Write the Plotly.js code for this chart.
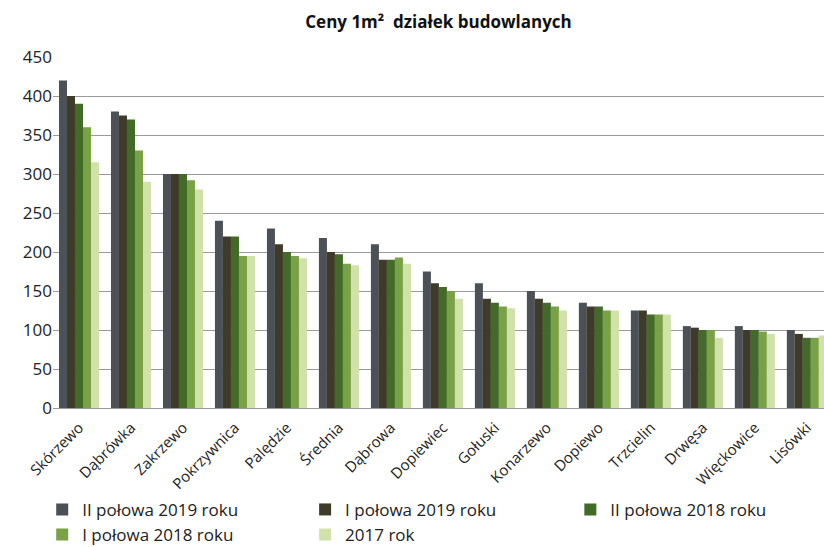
<!DOCTYPE html>
<html>
<head>
<meta charset="utf-8">
<script src="https://cdn.plot.ly/plotly-3.0.1.min.js"></script>
<style>html,body{margin:0;padding:0;background:#fff;}#chart{width:824px;height:547px;}</style>
</head>
<body>
<div id="chart"></div>
<script>
const categories = ["Skórzewo","Dąbrówka","Zakrzewo","Pokrzywnica","Palędzie","Średnia","Dąbrowa","Dopiewiec","Gołuski","Konarzewo","Dopiewo","Trzcielin","Drwęsa","Więckowice","Lisówki"];
const seriesNames = ["II połowa 2019 roku","I połowa 2019 roku","II połowa 2018 roku","I połowa 2018 roku","2017 rok"];
const h2_2019 = [420,380,300,240,230,218,210,175,160,150,135,125,105,105,100];
const h1_2019 = [400,375,300,220,210,200,190,160,140,140,130,125,103,100,95];
const h2_2018 = [390,370,300,220,200,197,190,155,135,135,130,120,100,100,90];
const h1_2018 = [360,330,292,195,195,185,193,150,130,130,125,120,100,98,90];
const y2017   = [315,290,280,195,192,183,185,140,128,125,125,120,90,95,93];
const seriesValues = [h2_2019,h1_2019,h2_2018,h1_2018,y2017];
const colors = ["#4b5157","#3e3b28","#416b27","#79a145","#d0e1aa"];
const yTicks = [0,50,100,150,200,250,300,350,400,450];
const legendIds = ['legend','legend2','legend3','legend','legend2'];

const traces = seriesValues.map((v,i)=>({
  type:'bar', x:categories, y:v, name:seriesNames[i], legend:legendIds[i],
  marker:{color:colors[i], line:{width:0}}
}));

function leg(x){
  return {orientation:'v', x:x, xanchor:'left', y:-0.239, yanchor:'top', itemwidth:30,
          font:{size:17, color:'#222'}, traceorder:'normal', bgcolor:'rgba(0,0,0,0)'};
}

const layout = {
  width:824, height:547,
  margin:{l:53, r:0, t:57, b:139, autoexpand:false},
  paper_bgcolor:'#fff', plot_bgcolor:'#fff',
  font:{family:'"Open Sans", sans-serif', color:'#222'},
  title:{text:'Ceny 1m²  działek budowlanych', x:0.5, xref:'paper', xanchor:'center', y:0.96, yref:'container', yanchor:'middle',
         font:{family:'"Open Sans", "Liberation Sans", sans-serif', size:17, color:'#111', weight:'bold'}},
  barmode:'group', bargap:0.23, bargroupgap:0,
  xaxis:{type:'category', range:[-0.5,14.33], tickangle:-45, automargin:false, ticklabelstandoff:4,
         tickfont:{size:15, family:'"Open Sans", sans-serif', color:'#222'},
         showline:true, linecolor:'#9a9a9a', linewidth:1, ticks:'', showgrid:false},
  yaxis:{range:[0,450], tickvals:yTicks, ticktext:yTicks.map(String), showgrid:true, gridcolor:'#9a9a9a', gridwidth:1,
         automargin:false, zeroline:false, showline:false,
         tickfont:{size:17, family:'"Open Sans", sans-serif', color:'#222'}, ticks:'', ticklen:0},
  showlegend:true,
  legend:leg(-0.014),
  legend2:leg(0.327),
  legend3:leg(0.671)
};
Plotly.newPlot('chart', traces, layout, {displayModeBar:false, staticPlot:true});
</script>
</body>
</html>
